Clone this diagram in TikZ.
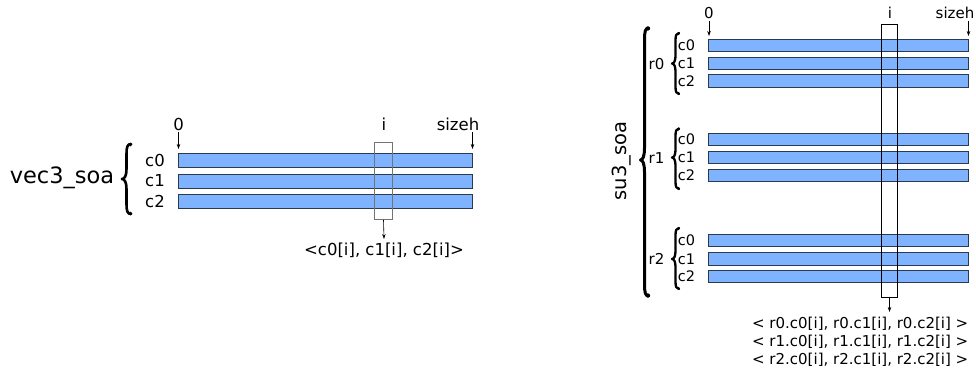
\documentclass[tikz,border=0pt]{standalone}
\usepackage{fontspec}
\setmainfont{DejaVu Sans}
\usetikzlibrary{arrows.meta}
\definecolor{barfill}{HTML}{80B3FF}
\definecolor{barline}{HTML}{2B3B4E}
% #1 x of straight part, #2 top y, #3 bottom y, #4 middle y, #5 hook width, #6 line width, #7 end blob radius, #8 hook height
\newcommand\mybrace[8]{%
  \draw[line width=#6,line cap=round,line join=round]
    (#1+#5,#2) .. controls (#1+0.2*#5,#2) and (#1,#2+0.3*#8) .. (#1,#2+#8) -- (#1,#4-#8)
    .. controls (#1,#4-0.35*#8) and (#1-0.4*#5,#4) .. (#1-#5,#4)
    .. controls (#1-0.4*#5,#4) and (#1,#4+0.35*#8) .. (#1,#4+#8) -- (#1,#3-#8)
    .. controls (#1,#3-0.3*#8) and (#1+0.2*#5,#3) .. (#1+#5,#3);
  \fill (#1+#5-0.6,#2+0.5) circle (#7);
  \fill (#1+#5-0.6,#3-0.5) circle (#7);
}
\begin{document}
\begin{tikzpicture}[x=1pt,y=-1pt,
  bar/.style={draw=barline,fill=barfill,line width=0.9pt},
  lbl/.style={inner sep=0pt,font=\fontsize{16.5}{19}\selectfont},
  rlbl/.style={inner sep=0pt,font=\fontsize{15}{18}\selectfont},
  clbl/.style={inner sep=0pt,font=\fontsize{14.5}{17}\selectfont},
  arr/.style={-{Stealth[length=5pt,width=3.5pt]},line width=0.6pt},
  ibox/.style={line width=0.9pt}]
\useasboundingbox (0,0) rectangle (976,372);
% ---------- left: vec3_soa ----------
\path[bar] (178,153.5) rectangle (472.5,167.5);
\path[bar] (178,174.5) rectangle (472.5,188.5);
\path[bar] (178,194.5) rectangle (472.5,208.5);
\node[draw=gray!90!black,ibox,minimum width=18pt,minimum height=77pt,inner sep=0] (lbox) at (383.5,181) {};
\node[lbl] (lz) at (178.5,124) {0};
\node[lbl] (li) at (384,124) {i};
\node[lbl] (ls) at (458,124) {sizeh};
\coordinate (lzt) at (178.5,132);
\coordinate (lzb) at (178.5,149);
\coordinate (lst) at (472.5,132);
\coordinate (lsb) at (472.5,149);
\draw[arr] (lzt) -- (lzb);
\draw[arr] (lst) -- (lsb);
\node[lbl] (lc0) at (155,160.5) {c0};
\node[lbl] (lc1) at (155,181) {c1};
\node[lbl] (lc2) at (155,201.5) {c2};
\node[lbl,font=\fontsize{22.5}{26}\selectfont] (lname) at (62,178) {vec3\_soa};
\mybrace{126.5}{144}{214}{179}{4.5}{2.6pt}{1.9pt}{10}
\node[lbl,anchor=north] (lres) at (384,243) {<c0[i], c1[i], c2[i]>};
\draw[arr] (lbox.south) -- ([yshift=4pt]lres.north);
% ---------- right: su3_soa ----------
\foreach \r/\ya/\yb/\yc/\yt/\ybt in {0/39/57.3/74.5/33/94, 1/133.3/151.3/169/128.5/189, 2/234.3/252.7/270.3/228/289}{
  \path[bar] (708.5,\ya) rectangle (968.5,\ya+12.5);
  \path[bar] (708.5,\yb) rectangle (968.5,\yb+12.5);
  \path[bar] (708.5,\yc) rectangle (968.5,\yc+12.5);
  \node[clbl] (rc\r0) at (686.5,\ya+6.25) {c0};
  \node[clbl] (rc\r1) at (686.5,\yb+6.25) {c1};
  \node[clbl] (rc\r2) at (686.5,\yc+6.25) {c2};
  \mybrace{675.5}{\yt}{\ybt}{\yb+6.25}{3.5}{2.3pt}{1.6pt}{8}
  \node[rlbl] (rr\r) at (656.5,\yb+6.25) {r\r};
}
\node[draw=black,ibox,minimum width=15.5pt,minimum height=273pt,inner sep=0] (rbox) at (889.5,160.5) {};
\node[rlbl] (rz) at (709,13) {0};
\node[rlbl] (ri) at (890,13) {i};
\node[rlbl] (rs) at (955,13) {sizeh};
\coordinate (rzt) at (709,21);
\coordinate (rzb) at (709,36);
\coordinate (rst) at (968.5,21);
\coordinate (rsb) at (968.5,36);
\draw[arr] (rzt) -- (rzb);
\draw[arr] (rst) -- (rsb);
\mybrace{644.5}{28}{296}{160}{4}{3pt}{2.2pt}{12}
\node[rlbl,font=\fontsize{19.5}{23}\selectfont,rotate=90] (rname) at (622,161) {su3\_soa};
\node[rlbl,anchor=east] (res0) at (968.5,324) {< r0.c0[i], r0.c1[i], r0.c2[i] >};
\node[rlbl,anchor=east] (res1) at (968.5,342) {< r1.c0[i], r1.c1[i], r1.c2[i] >};
\node[rlbl,anchor=east] (res2) at (968.5,360) {< r2.c0[i], r2.c1[i], r2.c2[i] >};
\coordinate (rarr) at (889.5,312);
\draw[arr] (rbox.south) -- (rarr);
\end{tikzpicture}
\end{document}
